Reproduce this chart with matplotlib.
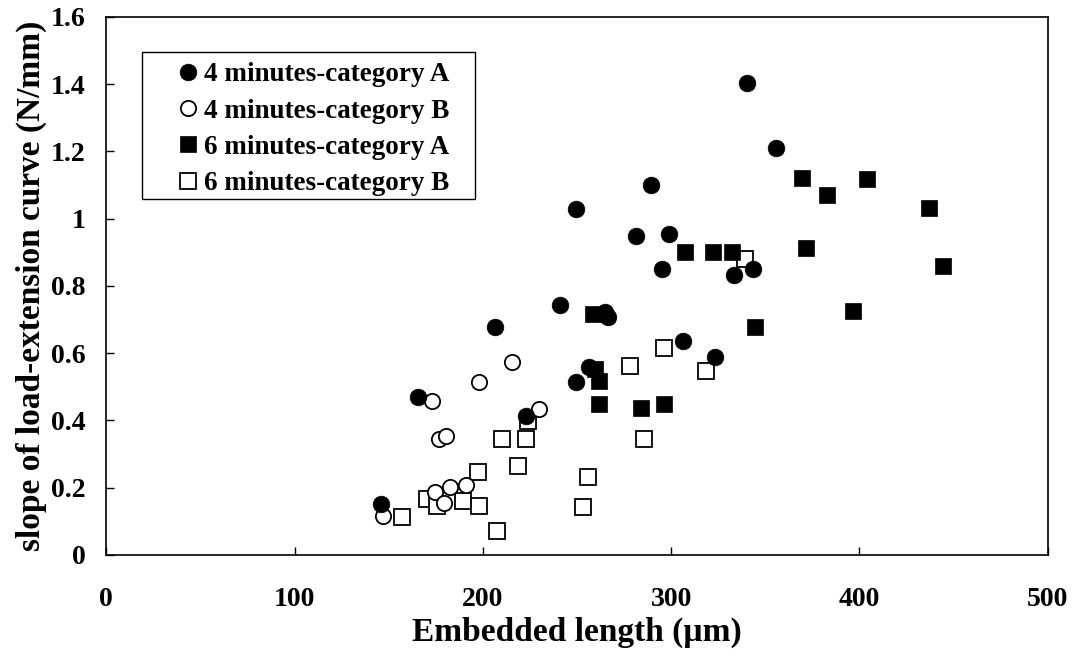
import matplotlib
matplotlib.use("Agg")
import matplotlib.pyplot as plt
from matplotlib.patches import Rectangle
from matplotlib.ticker import MultipleLocator, FuncFormatter

# Embedded length (µm) and slope of load-extension curve (N/mm)
min4_catA_x = [145.8, 165.4, 206.5, 223.1, 240.8, 249.3, 249.3, 256.2, 264.7, 266.5,
               281.2, 289.5, 295.1, 298.7, 306.3, 323.1, 333.3, 340.4, 343.6, 355.5]
min4_catA_y = [0.151, 0.469, 0.677, 0.413, 0.742, 1.028, 0.515, 0.558, 0.724, 0.709,
               0.950, 1.101, 0.851, 0.956, 0.637, 0.590, 0.834, 1.403, 0.851, 1.211]

min4_catB_x = [147.0, 172.9, 174.5, 176.8, 179.2, 180.3, 182.4, 190.8, 198.2, 215.7, 229.8]
min4_catB_y = [0.116, 0.458, 0.188, 0.346, 0.156, 0.354, 0.203, 0.208, 0.515, 0.573, 0.433]

min6_catA_x = [258.5, 259.4, 261.7, 261.7, 283.8, 296.0, 307.3, 322.2, 332.5, 344.5,
               369.6, 371.6, 382.7, 396.7, 404.1, 436.7, 444.3]
min6_catA_y = [0.716, 0.553, 0.516, 0.448, 0.438, 0.448, 0.902, 0.902, 0.902, 0.677,
               1.122, 0.913, 1.070, 0.725, 1.117, 1.033, 0.860]

min6_catB_x = [157.1, 170.1, 175.7, 189.5, 198.0, 197.5, 207.5, 210.2, 218.5, 223.1,
               224.2, 253.2, 255.8, 278.3, 285.6, 296.0, 318.3, 339.0]
min6_catB_y = [0.114, 0.166, 0.146, 0.162, 0.146, 0.248, 0.072, 0.344, 0.265, 0.344,
               0.399, 0.144, 0.233, 0.563, 0.344, 0.616, 0.548, 0.881]

series_labels = ["4 minutes-category A", "4 minutes-category B",
                 "6 minutes-category A", "6 minutes-category B"]

x_label = "Embedded length (\u00b5m)"
y_label = "slope of load-extension curve (N/mm)"

plt.rcParams["font.family"] = ["Liberation Serif", "DejaVu Serif"]
plt.rcParams["font.weight"] = "bold"

fig = plt.figure(figsize=(10.73, 6.64), dpi=100)
ax = fig.add_axes([0.0991, 0.1642, 0.8773, 0.8102])

ms_c = 12
ms_s = 11
common = dict(linestyle="none")
h4a, = ax.plot(min4_catA_x, min4_catA_y, marker="o", ms=ms_c, mfc="black", mec="black",
               mew=0.5, zorder=6, label=series_labels[0], **common)
h4b, = ax.plot(min4_catB_x, min4_catB_y, marker="o", ms=ms_c - 1, mfc="white", mec="black",
               mew=1.3, zorder=4, label=series_labels[1], **common)
h6a, = ax.plot(min6_catA_x, min6_catA_y, marker="s", ms=ms_s + 0.5, mfc="black", mec="black",
               mew=0.5, zorder=5, label=series_labels[2], **common)
h6b, = ax.plot(min6_catB_x, min6_catB_y, marker="s", ms=ms_s, mfc="white", mec="black",
               mew=1.3, zorder=3, label=series_labels[3], **common)

ax.set_xlim(0, 500)
ax.set_ylim(0, 1.6)
ax.xaxis.set_major_locator(MultipleLocator(100))
ax.yaxis.set_major_locator(MultipleLocator(0.2))
ax.yaxis.set_major_formatter(FuncFormatter(lambda v, p: f"{v:g}"))
ax.xaxis.set_major_formatter(FuncFormatter(lambda v, p: f"{v:g}"))

ax.tick_params(axis="both", direction="in", length=6, width=1, labelsize=20)
ax.tick_params(axis="x", pad=23)
ax.tick_params(axis="y", pad=15)
for lab in ax.get_xticklabels() + ax.get_yticklabels():
    lab.set_fontweight("bold")

for sp in ax.spines.values():
    sp.set_linewidth(1.2)
    sp.set_color("black")

ax.set_xlabel(x_label, fontsize=24, fontweight="bold")
ax.set_ylabel(y_label, fontsize=24, fontweight="bold")
ax.xaxis.set_label_coords(0.5, -0.115)
ax.yaxis.set_label_coords(-0.063, 0.5)

# Legend box with its own frame rectangle
leg = ax.legend(handles=[h4a, h4b, h6a, h6b], loc="upper left",
                bbox_to_anchor=(0.069, 0.926), borderaxespad=0, frameon=False,
                prop={"size": 19.5, "weight": "bold"}, handlelength=0.8,
                handletextpad=0.22, labelspacing=0.42, borderpad=0.2)
leg.set_zorder(10)
frame = Rectangle((0.0376, 0.6608), 0.354, 0.2736, transform=ax.transAxes,
                  facecolor="white", edgecolor="black", linewidth=1.0, zorder=9)
ax.add_patch(frame)

fig.savefig("out.png", dpi=100)
